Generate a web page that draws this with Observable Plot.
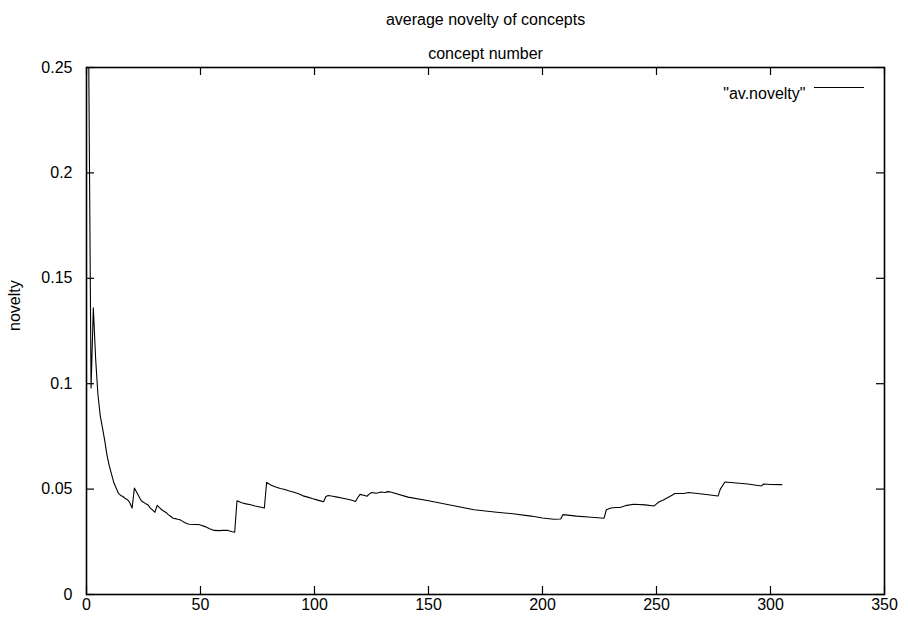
<!DOCTYPE html>
<html>
<head>
<meta charset="utf-8">
<script src="https://cdn.jsdelivr.net/npm/d3@7"></script>
<script src="https://cdn.jsdelivr.net/npm/@observablehq/plot@0.6"></script>
<style>
  html, body { margin: 0; padding: 0; background: #fff; }
  #chart svg { display: block; }
</style>
</head>
<body>
<div id="chart"></div>
<script>
const chartTitle = "average novelty of concepts";
const xLabel = "concept number";
const yLabel = "novelty";
const seriesName = "\"av.novelty\"";

const xTicks = [0, 50, 100, 150, 200, 250, 300, 350];
const yTicks = [0, 0.05, 0.1, 0.15, 0.2, 0.25];
const yTickLabels = ["0", "0.05", "0.1", "0.15", "0.2", "0.25"];

const conceptNumber = [
  1, 2, 3, 4, 5, 6, 7, 8, 9, 10,
  11, 12, 13, 14, 15, 16, 17, 18, 19, 20,
  21, 22, 23, 24, 25, 26, 27, 28, 29, 30,
  31, 32, 33, 34, 35, 36, 37, 38, 39, 40,
  41, 42, 43, 44, 45, 47, 49, 50, 52, 54,
  56, 58, 60, 62, 64, 65, 66, 68, 70, 72,
  74, 76, 78, 79, 81, 83, 85, 87, 89, 91,
  93, 95, 97, 99, 101, 103, 104, 105, 106, 108,
  110, 112, 114, 116, 118, 119, 120, 122, 123, 124,
  125, 126, 127, 128, 129, 130, 131, 132, 133, 141,
  150, 160, 170, 180, 187, 195, 200, 205, 208, 209,
  215, 220, 227, 228, 230, 232, 234, 235, 237, 240,
  245, 249, 250, 251, 253, 255, 257, 258, 262, 264,
  270, 277, 278, 280, 285, 290, 296, 297, 300, 305
];
const novelty = [
  0.25, 0.098, 0.136, 0.112, 0.095, 0.085, 0.079, 0.073, 0.066, 0.061,
  0.057, 0.053, 0.0505, 0.048, 0.047, 0.0465, 0.0455, 0.045, 0.0435, 0.041,
  0.0505, 0.0485, 0.0465, 0.0445, 0.0438, 0.043, 0.0425, 0.041, 0.040, 0.039,
  0.0423, 0.0412, 0.0402, 0.0395, 0.0388, 0.0378, 0.037, 0.0362, 0.036, 0.0357,
  0.0355, 0.0348, 0.0342, 0.0337, 0.0333, 0.0332, 0.0332, 0.033, 0.0322, 0.0312,
  0.0304, 0.0303, 0.0304, 0.0304, 0.0298, 0.0296, 0.0445, 0.0435, 0.043, 0.0426,
  0.042, 0.0415, 0.041, 0.0532, 0.0518, 0.051, 0.0503, 0.0498, 0.0491, 0.0485,
  0.0478, 0.0468, 0.0462, 0.0455, 0.0449, 0.0443, 0.044, 0.0465, 0.047, 0.0466,
  0.0462, 0.0458, 0.0453, 0.0448, 0.0441, 0.046, 0.0475, 0.047, 0.0466, 0.0476,
  0.0484, 0.0483, 0.048, 0.0483, 0.0486, 0.0485, 0.0484, 0.0488, 0.0487, 0.0462,
  0.0445, 0.0423, 0.0402, 0.039, 0.0383, 0.0372, 0.0363, 0.0357, 0.0358, 0.0379,
  0.0372, 0.0368, 0.0362, 0.0402, 0.041, 0.0413, 0.0413, 0.0416, 0.0423, 0.0428,
  0.0425, 0.042, 0.043, 0.0439, 0.0448, 0.046, 0.0472, 0.0479, 0.0479, 0.0484,
  0.0477, 0.0467, 0.050, 0.0534, 0.0529, 0.0524, 0.0515, 0.0524, 0.0522, 0.0521
];

const data = conceptNumber.map((x, i) => ({x, y: novelty[i]}));

const W = 908, H = 625;
const mL = 86, mR = 24, mT = 67, mB = 31;
const pw = W - mL - mR, ph = H - mT - mB;
const tick = 8;
const font = "Liberation Sans, Arial, Helvetica, sans-serif";
const fs = 16;

const chart = Plot.plot({
  width: W,
  height: H,
  marginLeft: mL,
  marginRight: mR,
  marginTop: mT,
  marginBottom: mB,
  style: {fontFamily: font, fontSize: fs + "px", color: "#000", background: "#fff"},
  x: {domain: [0, 350], ticks: xTicks, label: null},
  y: {domain: [0, 0.25], ticks: yTicks, label: null},
  marks: [
    Plot.axisX({ticks: xTicks, tickSize: 0, tickPadding: 4, label: null, fontSize: fs}),
    Plot.axisY({ticks: yTicks, tickSize: 0, tickPadding: 14, label: null, fontSize: fs,
      tickFormat: d => yTickLabels[yTicks.indexOf(d)]}),
    // inward mirrored ticks
    Plot.ruleX(xTicks, {x: d => d, insetTop: ph - tick, stroke: "#000", strokeWidth: 1.2}),
    Plot.ruleX(xTicks, {x: d => d, insetBottom: ph - tick, stroke: "#000", strokeWidth: 1.2}),
    Plot.ruleY(yTicks, {y: d => d, insetRight: pw - tick, stroke: "#000", strokeWidth: 1.2}),
    Plot.ruleY(yTicks, {y: d => d, insetLeft: pw - tick, stroke: "#000", strokeWidth: 1.2}),
    Plot.line(data, {x: "x", y: "y", stroke: "#000", strokeWidth: 1.1}),
    Plot.frame({stroke: "#000", strokeWidth: 1.6}),
    // titles
    Plot.text([chartTitle], {text: d => d, frameAnchor: "top", dy: -54, fontSize: fs}),
    Plot.text([xLabel], {text: d => d, frameAnchor: "top", dy: -20, fontSize: fs}),
    Plot.text([yLabel], {text: d => d, frameAnchor: "left", dx: -72, rotate: -90, fontSize: fs}),
    // legend
    Plot.text([seriesName], {text: d => d, frameAnchor: "top-right", textAnchor: "end", dx: -79, dy: 20, fontSize: fs}),
    Plot.ruleY([yTicks[yTicks.length - 1]], {y: d => d, dy: 20, insetLeft: pw - 70, insetRight: 20, stroke: "#000", strokeWidth: 1.1})
  ]
});

document.getElementById("chart").appendChild(chart);
</script>
</body>
</html>
